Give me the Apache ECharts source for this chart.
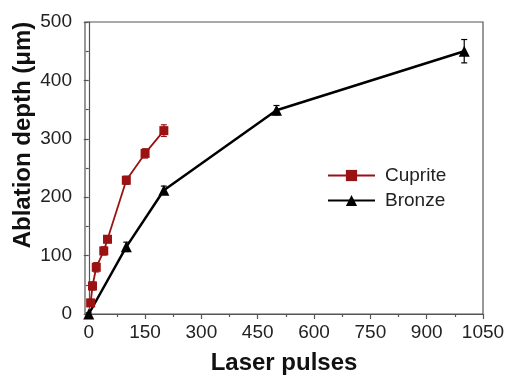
<!DOCTYPE html>
<html>
<head>
<meta charset="utf-8">
<script src="https://cdn.jsdelivr.net/npm/echarts@6/dist/echarts.min.js"></script>
<style>
  html, body { margin: 0; padding: 0; background: #fff; }
  #chart { width: 508px; height: 376px; }
</style>
</head>
<body>
<div id="chart"></div>
<script>
// data
const cupritePulses = [5, 10, 20, 40, 50, 100, 150, 200];
const cupriteDepth = [19, 48, 80, 108, 128, 229, 275, 314];
const cupriteErr = [6, 7, 8, 7, 6, 7, 8, 10];

const bronzePulses = [0, 100, 200, 500, 1000];
const bronzeDepth = [0, 115, 212, 349, 450];
const bronzeErr = [2, 8, 7, 8, 20];

const xMajorTicks = [0, 150, 300, 450, 600, 750, 900, 1050];
const xMinorTicks = [75, 225, 375, 525, 675, 825, 975];
const yMinorTicks = [50, 150, 250, 350, 450];

const axisColor = '#555';
const redColor = '#9a1212';
const fontName = 'Liberation Sans, Arial, sans-serif';

function pairs(xs, ys) {
  return xs.map((x, i) => [x, ys[i]]);
}
function errPairs(xs, ys, es) {
  return xs.map((x, i) => [x, ys[i] - es[i], ys[i] + es[i]]);
}

// error bars drawn with a custom series
function errorBar(color) {
  return function (params, api) {
    const lo = api.coord([api.value(0), api.value(1)]);
    const hi = api.coord([api.value(0), api.value(2)]);
    const w = 3;
    const st = { stroke: color, lineWidth: 1.2 };
    return {
      type: 'group',
      children: [
        { type: 'line', shape: { x1: lo[0], y1: lo[1], x2: hi[0], y2: hi[1] }, style: st },
        { type: 'line', shape: { x1: lo[0] - w, y1: lo[1], x2: lo[0] + w, y2: lo[1] }, style: st },
        { type: 'line', shape: { x1: hi[0] - w, y1: hi[1], x2: hi[0] + w, y2: hi[1] }, style: st }
      ]
    };
  };
}

const chart = echarts.init(document.getElementById('chart'));
const labelFont = { fontFamily: fontName, fontSize: 19, color: '#222' };
const tickLine = { color: axisColor, width: 1.2 };

chart.setOption({
  animation: false,
  grid: {
    left: 85, right: 25, top: 22, bottom: 62,
    outerBoundsMode: 'none',
    show: true, borderColor: axisColor, borderWidth: 1.2
  },
  legend: {
    orient: 'vertical',
    left: 322, top: 161,
    itemWidth: 47, itemHeight: 14, itemGap: 6,
    textStyle: { fontFamily: fontName, fontSize: 19, color: '#222', padding: [0, 0, 0, 5] },
    data: ['Cuprite', 'Bronze']
  },
  xAxis: [
    {
      type: 'value', min: -10, max: 1050,
      name: 'Laser pulses', nameLocation: 'middle', nameGap: 37,
      nameTextStyle: { fontFamily: fontName, fontSize: 24, fontWeight: 'bold', color: '#111' },
      axisLine: { show: true, onZero: false, lineStyle: tickLine },
      axisTick: { show: true, length: 5, customValues: xMajorTicks, lineStyle: tickLine },
      axisLabel: { ...labelFont, margin: 9, customValues: xMajorTicks, formatter: v => String(v) },
      splitLine: { show: false }
    },
    {
      type: 'value', min: -10, max: 1050, position: 'bottom',
      axisLine: { show: false },
      axisTick: { show: true, inside: false, length: 3, customValues: xMinorTicks, lineStyle: tickLine },
      axisLabel: { show: false },
      splitLine: { show: false }
    }
  ],
  yAxis: [
    {
      type: 'value', min: 0, max: 500, interval: 100,
      axisLine: { show: true, lineStyle: tickLine },
      axisTick: { show: true, length: 5, lineStyle: tickLine },
      axisLabel: { ...labelFont, margin: 13 },
      splitLine: { show: false }
    },
    {
      type: 'value', min: 0, max: 500, position: 'left', offset: 0,
      axisLine: { show: false },
      axisTick: { show: true, inside: false, length: 3, customValues: yMinorTicks, lineStyle: tickLine },
      axisLabel: { show: false },
      splitLine: { show: false }
    }
  ],
  graphic: [{
    type: 'text',
    x: 23, y: 135,
    rotation: Math.PI / 2,
    style: {
      text: 'Ablation depth (μm)',
      fontFamily: fontName,
      fontSize: 24, fontWeight: 'bold', fill: '#111',
      align: 'center', verticalAlign: 'middle'
    }
  }],
  series: [
    {
      name: 'Bronze', type: 'line',
      data: pairs(bronzePulses, bronzeDepth),
      symbol: 'triangle', symbolSize: 11,
      lineStyle: { color: '#000', width: 2.5 },
      itemStyle: { color: '#000' },
      z: 3
    },
    {
      name: 'Cuprite', type: 'line',
      data: pairs(cupritePulses, cupriteDepth),
      symbol: 'rect', symbolSize: 9,
      lineStyle: { color: redColor, width: 1.8 },
      itemStyle: { color: redColor },
      z: 4
    },
    {
      type: 'custom', renderItem: errorBar('#000'),
      data: errPairs(bronzePulses, bronzeDepth, bronzeErr), z: 2
    },
    {
      type: 'custom', renderItem: errorBar(redColor),
      data: errPairs(cupritePulses, cupriteDepth, cupriteErr), z: 2
    }
  ]
});
</script>
</body>
</html>
